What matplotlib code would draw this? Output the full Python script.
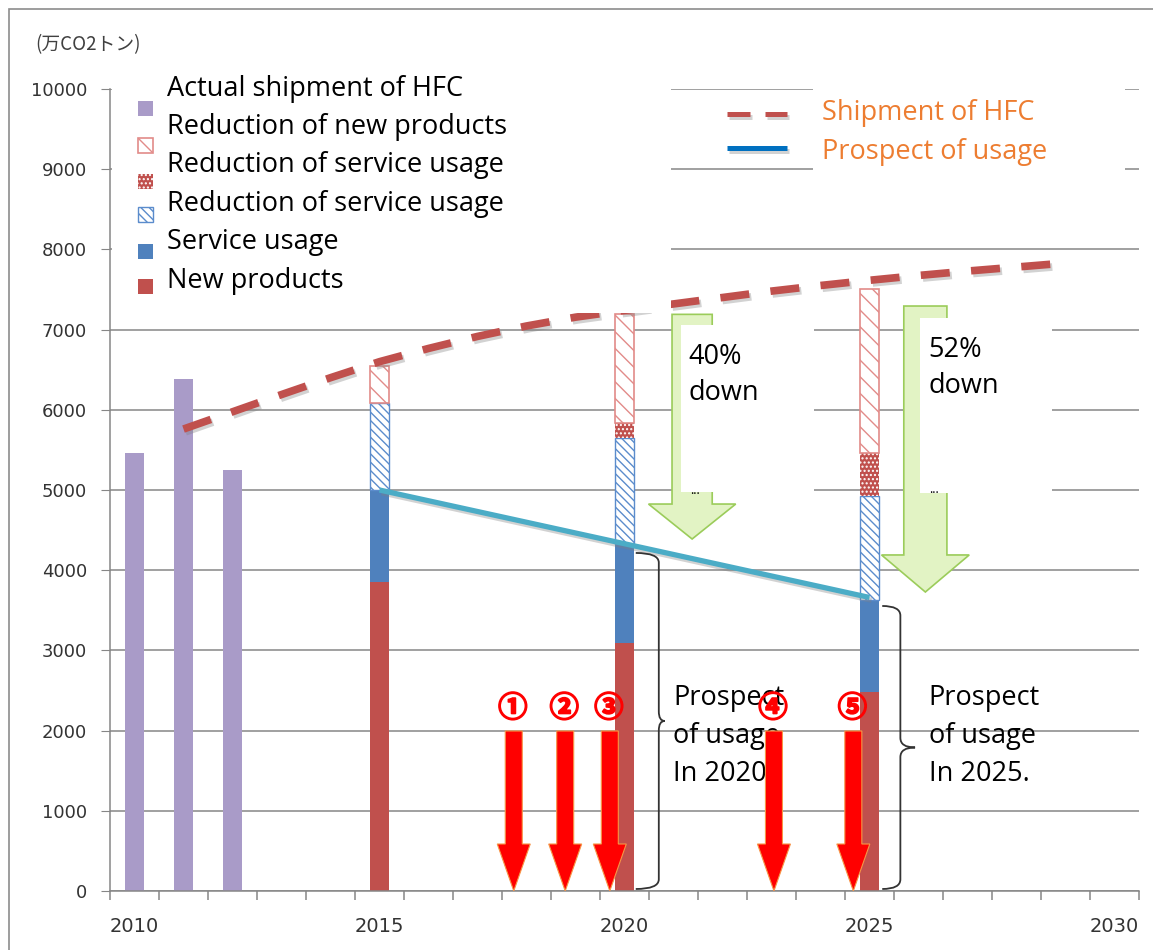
import numpy as np
import matplotlib.pyplot as plt
import matplotlib.patheffects as pe
from matplotlib.patches import Rectangle, FancyArrow, PathPatch
from matplotlib.path import Path

plt.rcParams['font.family'] = ['Open Sans', 'DejaVu Sans']
plt.rcParams['hatch.linewidth'] = 1.0

# actual shipment of HFC (purple bars)
actual_years = [2010, 2011, 2012]
actual_values = [5460, 6385, 5250]

# prospect bars, stacked from the bottom up
stack_years = [2015, 2020, 2025]
new_products = [3853, 3092, 2481]
service_usage = [1147, 1238, 1147]
red_service_blue = [1085, 1318, 1297]
red_service_red = [0, 187, 536]
red_new_products = [461, 1365, 2045]

# shipment of HFC (dashed line)
ship_years = list(range(2011, 2030))
ship_values = [5760, 5975, 6190, 6400, 6600, 6765, 6915, 7045, 7155, 7240,
               7320, 7400, 7480, 7550, 7615, 7675, 7730, 7780, 7830]

# prospect of usage (blue line)
usage_years = [2015, 2020, 2025]
usage_values = [5000, 4330, 3660]

# numbered red arrows
arrow_labels = ['①', '②', '③', '④', '⑤']
arrow_x = [2017.74, 2018.79, 2019.70, 2023.05, 2024.67]

grey = '#868686'
fs = 19.5

fig = plt.figure(figsize=(11.53, 9.5), dpi=100)
ax = fig.add_axes([110 / 1153, 59 / 950, 1029 / 1153, 802 / 950])
ax.set_xlim(2009.5, 2030.5)
ax.set_ylim(0, 10000)
ax.set_axisbelow(True)
ax.yaxis.grid(True, color=grey, lw=1.1)
for s in ['top', 'right']:
    ax.spines[s].set_visible(False)
for s in ['left', 'bottom']:
    ax.spines[s].set_color(grey)
    ax.spines[s].set_linewidth(1.1)

ax.set_yticks(np.arange(0, 10001, 1000))
ax.set_xticks([2010, 2015, 2020, 2025, 2030])
ax.set_xticks(np.arange(2009.5, 2031, 1), minor=True)
ax.tick_params(axis='y', length=6.5, color=grey, pad=10, labelsize=13, labelcolor='#333333')
ax.tick_params(axis='x', which='major', length=0, pad=19, labelsize=14, labelcolor='#333333')
ax.tick_params(axis='x', which='minor', length=6.5, color=grey, width=1.1)
for lab in ax.get_xticklabels() + ax.get_yticklabels():
    lab.set_family('DejaVu Sans')

w = 0.39
ax.bar(actual_years, actual_values, w, color='#a99bc8', lw=0, zorder=2)

styles = [
    dict(color='#c0504d', lw=0),
    dict(color='#4f81bd', lw=0),
    dict(facecolor='white', edgecolor='#5b8ccc', hatch='\\\\\\\\', lw=1),
    dict(facecolor='#c0504d', edgecolor='white', hatch='....', lw=0),
    dict(facecolor='white', edgecolor='#e28b89', hatch='\\\\', lw=1.2),
]
bottom = np.zeros(len(stack_years))
for vals, st in zip([new_products, service_usage, red_service_blue,
                     red_service_red, red_new_products], styles):
    ax.bar(stack_years, vals, w, bottom=bottom, zorder=2, **st)
    bottom += np.array(vals)

shadow = [pe.SimpleLineShadow(offset=(1.5, -2), shadow_color='gray', alpha=0.35), pe.Normal()]
ax.plot(ship_years, ship_values, color='#c0504d', lw=5.5, dashes=(3.8, 2.8),
        zorder=3, path_effects=shadow)
ax.plot(usage_years, usage_values, color='#4bacc6', lw=3.8, zorder=3,
        solid_capstyle='butt', path_effects=shadow)

# green reduction arrows
ax.add_patch(FancyArrow(2021.38, 7190, 0, 4389 - 7190, width=0.82, head_width=1.78,
                        head_length=436, length_includes_head=True,
                        fc='#e2f3c4', ec='#9bcc5a', lw=1.2, zorder=4))
ax.add_patch(FancyArrow(2026.14, 7294, 0, 3728 - 7294, width=0.88, head_width=1.79,
                        head_length=462, length_includes_head=True,
                        fc='#e2f3c4', ec='#9bcc5a', lw=1.2, zorder=4))

# white text boxes
ax.add_patch(Rectangle((2021.15, 4975), 2.72, 2082, fc='white', ec='none', zorder=5))
ax.add_patch(Rectangle((2026.03, 4963), 2.69, 2182, fc='white', ec='none', zorder=5))
ax.text(2021.30, 6658, '40%', fontsize=fs, va='center', zorder=6)
ax.text(2021.30, 6209, 'down', fontsize=fs, va='center', zorder=6)
ax.text(2026.21, 6746, '52%', fontsize=fs, va='center', zorder=6)
ax.text(2026.21, 6297, 'down', fontsize=fs, va='center', zorder=6)
ax.text(2021.33, 4990, '...', fontsize=9, va='center', zorder=6)
ax.text(2026.21, 5000, '...', fontsize=9, va='center', zorder=6)


def brace(x, y0, y1, bw, tip):
    ym = (y0 + y1) / 2
    r = 120
    verts = [(x, y1), (x + bw, y1), (x + bw, y1 - r),
             (x + bw, ym + r), (x + bw, ym), (x + bw + tip, ym),
             (x + bw, ym), (x + bw, ym - r),
             (x + bw, y0 + r), (x + bw, y0), (x, y0)]
    codes = [Path.MOVETO, Path.CURVE3, Path.CURVE3, Path.LINETO,
             Path.CURVE3, Path.CURVE3, Path.CURVE3, Path.CURVE3,
             Path.LINETO, Path.CURVE3, Path.CURVE3]
    ax.add_patch(PathPatch(Path(verts, codes), fc='none', ec='#333333', lw=1.3, zorder=6))


brace(2020.23, 25, 4215, 0.47, 0.12)
brace(2025.26, 25, 3554, 0.37, 0.3)

for x0, lines in [(2020.99, ['Prospect', 'of usage', 'In 2020']),
                  (2026.21, ['Prospect', 'of usage', 'In 2025.'])]:
    for yy, t in zip([2406, 1933, 1459], lines):
        ax.text(x0, yy, t, fontsize=fs, va='center', zorder=6)

# red arrows with circled numbers
num_fx = [pe.withStroke(linewidth=1.3, foreground='#ff0000')]
for lab, x in zip(arrow_labels, arrow_x):
    ax.add_patch(FancyArrow(x, 1995, 0, -1995, width=0.347, head_width=0.673,
                            head_length=586, length_includes_head=True,
                            fc='#ff0000', ec='#f79646', lw=0.8, zorder=7))
    ax.text(x - 0.02, 2282, lab, color='#ff0000', fontsize=21, fontweight='bold',
            ha='center', va='center', family=['Noto Sans CJK JP', 'DejaVu Sans'],
            path_effects=num_fx, zorder=8)

# left legend
ax.add_patch(Rectangle((2009.55, 7207), 11.39, 2968, fc='white', ec='none',
                       zorder=5, clip_on=False))
leg_text = ['Actual shipment of HFC', 'Reduction of new products',
            'Reduction of service usage', 'Reduction of service usage',
            'Service usage', 'New products']
leg_text_y = [10000, 9526, 9052, 8566, 8092, 7606]
leg_mark_y = [9751, 9289, 8840, 8429, 7968, 7531]
leg_styles = [dict(color='#a99bc8', lw=0)] + styles[::-1]
for t, ty, my, st in zip(leg_text, leg_text_y, leg_mark_y, leg_styles):
    ax.text(2010.66, ty, t, fontsize=fs, va='center', zorder=6, clip_on=False)
    ax.add_patch(Rectangle((2010.07, my - 93), 0.30, 187, zorder=6, clip_on=False, **st))

# right legend
ax.add_patch(Rectangle((2023.85, 8803), 6.36, 1372, fc='white', ec='none',
                       zorder=5, clip_on=False))
ax.plot([2022.09, 2023.32], [9688, 9688], color='#c0504d', lw=3.6,
        dashes=(4.6, 3), zorder=6, path_effects=shadow)
ax.plot([2022.09, 2023.32], [9264, 9264], color='#0070c0', lw=3.6,
        solid_capstyle='butt', zorder=6, path_effects=shadow)
ax.text(2024.03, 9701, 'Shipment of HFC', color='#ed7d31', fontsize=fs, va='center', zorder=6)
ax.text(2024.03, 9214, 'Prospect of usage', color='#ed7d31', fontsize=fs, va='center', zorder=6)

fig.text(35 / 1153, 1 - 45 / 950, '(万CO2トン)', fontsize=13.5, va='center', color='#404040',
         family=['Noto Sans CJK JP', 'DejaVu Sans'])
fig.add_artist(Rectangle((9 / 1153, -0.05), 1.2, 941 / 950 + 0.05, transform=fig.transFigure,
                         fill=False, ec='#8c8c8c', lw=1.2))

fig.savefig('out.png', dpi=100)
